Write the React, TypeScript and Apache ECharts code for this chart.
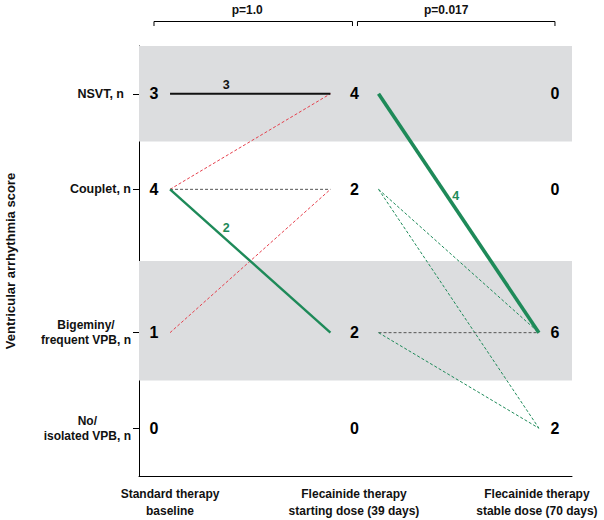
import { useEffect, useRef } from 'react';
import * as echarts from 'echarts';

// ---- data ----
const timepoints = [
  'Standard therapy\nbaseline',
  'Flecainide therapy\nstarting dose (39 days)',
  'Flecainide therapy\nstable dose (70 days)',
];
const levelNames = ['No/\nisolated VPB, n', 'Bigeminy/\nfrequent VPB, n', 'Couplet, n', 'NSVT, n'];
const levelScores = [0, 1, 2.5, 3.5];
const countsBaseline = [0, 1, 4, 3];
const countsStarting = [0, 2, 2, 4];
const countsStable = [2, 6, 0, 0];
// transitions between time points
const transPeriod = [0, 0, 0, 0, 0, 1, 1, 1, 1, 1];
const transFrom = [3, 2, 2, 2, 1, 3, 2, 2, 1, 1];
const transTo = [3, 3, 2, 1, 2, 1, 1, 0, 1, 0];
const transPatients = [3, 1, 1, 2, 1, 4, 1, 1, 1, 1];
const pValues = ['p=1.0', 'p=0.017'];
const bandRanges = [
  [3.0, 4.0],
  [0.5, 1.75],
];

// ---- styling ----
const FONT = 'Liberation Sans, Arial, Helvetica, sans-serif';
const RED = '#e5404d';
const GREEN = '#1e8a59';
const BLACK = '#111111';
const GREY_DASH = '#555555';
const BAND = '#dcdddf';
const segStart = [0.08, 1.12];
const segEnd = [0.88, 1.92];
const xLabelPos = [0.08, 0.9975, 1.91];
const labelFrac: Record<number, number> = { 0: 0.35, 3: 0.3, 5: 0.45 };
const labelOff: Record<number, number[]> = { 0: [0, -9], 3: [8, -4], 5: [5, -5] };

const allCounts = [countsBaseline, countsStarting, countsStable];

function buildOption() {
  const lineSeries: any[] = [];
  const lineLabels: any[] = [];
  transPeriod.forEach((p, i) => {
    const y0 = levelScores[transFrom[i]];
    const y1 = levelScores[transTo[i]];
    const n = transPatients[i];
    let color: string;
    if (transTo[i] > transFrom[i]) color = RED;
    else if (transTo[i] < transFrom[i]) color = GREEN;
    else color = n > 1 ? BLACK : GREY_DASH;
    const width = n >= 4 ? 3.6 : n >= 3 ? 2 : n >= 2 ? 2.4 : 1;
    const dashed = n === 1;
    lineSeries.push({
      type: 'line',
      silent: true,
      z: dashed ? 2 : 3,
      symbol: 'none',
      data: [
        [segStart[p], y0],
        [segEnd[p], y1],
      ],
      lineStyle: { color, width, type: dashed ? [3, 2] : 'solid' },
    });
    if (n > 1) {
      const f = labelFrac[i] ?? 0.4;
      const x = segStart[p] + (segEnd[p] - segStart[p]) * f;
      const y = y0 + (y1 - y0) * f;
      lineLabels.push({
        value: [x, y, n],
        label: { offset: labelOff[i] ?? [0, -8], color },
      });
    }
  });

  const countData: any[] = [];
  allCounts.forEach((arr, t) => {
    arr.forEach((c, li) => countData.push([t, levelScores[li], c]));
  });

  const labelBase = {
    show: true,
    position: 'inside',
    formatter: (p: any) => String(p.value[2]),
    fontFamily: FONT,
    fontWeight: 'bold',
    opacity: 1,
    textBorderWidth: 0,
  };

  return {
    animation: false,
    grid: {
      left: 139,
      right: 32,
      top: 46,
      bottom: 44,
      containLabel: false,
      outerBoundsMode: 'none',
    },
    xAxis: {
      type: 'value',
      min: -0.0748,
      max: 2.085,
      splitLine: { show: false },
      axisLine: { show: true, onZero: false, lineStyle: { color: '#000', width: 1 } },
      axisTick: { show: false },
      axisLabel: {
        customValues: xLabelPos,
        formatter: (v: number) => timepoints[Math.round(v)] ?? '',
        fontFamily: FONT,
        fontWeight: 'bold',
        fontSize: 12,
        lineHeight: 17,
        color: '#111',
        margin: 9,
        align: 'center',
      },
    },
    yAxis: {
      type: 'value',
      min: -0.5,
      max: 4.0,
      name: 'Ventricular arrhythmia score',
      nameLocation: 'middle',
      nameGap: 122,
      nameTextStyle: { fontFamily: FONT, fontWeight: 'bold', fontSize: 13, color: '#111' },
      splitLine: { show: false },
      axisLine: { show: true, onZero: false, lineStyle: { color: '#000', width: 1 } },
      axisTick: { show: true, customValues: levelScores, length: 6, lineStyle: { color: '#000' } },
      axisLabel: {
        customValues: levelScores,
        margin: 8,
        align: 'right',
        fontFamily: FONT,
        fontWeight: 'bold',
        fontSize: 12,
        color: '#111',
        formatter: (v: number) => {
          const idx = levelScores.indexOf(v);
          if (idx < 0) return '';
          const name = levelNames[idx];
          const parts = name.split('\n');
          if (parts.length > 1) return parts.map((s) => `{c|${s}}`).join('\n');
          return idx === 3 ? `{p|${name}}` : `{r|${name}}`;
        },
        rich: {
          c: { align: 'center', fontFamily: FONT, fontWeight: 'bold', fontSize: 12, lineHeight: 15, color: '#111' },
          r: { fontFamily: FONT, fontWeight: 'bold', fontSize: 12.5, color: '#111' },
          p: { fontFamily: FONT, fontWeight: 'bold', fontSize: 12.5, color: '#111', padding: [0, 7, 0, 0] },
        },
      },
    },
    series: [
      {
        type: 'scatter',
        silent: true,
        z: 1,
        symbol: 'circle',
        symbolSize: 0,
        itemStyle: { color: '#ffffff' },
        data: countData,
        label: { ...labelBase, fontSize: 16, color: '#000000' },
        markArea: {
          silent: true,
          itemStyle: { color: BAND },
          data: bandRanges.map((r) => [{ yAxis: r[0] }, { yAxis: r[1] }]),
        },
      },
      ...lineSeries,
      {
        type: 'scatter',
        silent: true,
        z: 4,
        symbol: 'circle',
        symbolSize: 0,
        itemStyle: { color: '#ffffff' },
        data: lineLabels,
        label: { ...labelBase, fontSize: 12.5 },
      },
    ],
  };
}

export default function App() {
  const ref = useRef<HTMLDivElement>(null);
  useEffect(() => {
    if (!ref.current) return;
    const chart = echarts.init(ref.current, undefined, { renderer: 'svg', width: 604, height: 520 });
    chart.setOption(buildOption() as any);
    const px = (t: number) => chart.convertToPixel({ xAxisIndex: 0 }, t) as number;
    const brackets = [
      [px(0), px(1) - 2],
      [px(1) + 3, px(2)],
    ];
    const textShift = [-6, -10];
    const graphic: any[] = [];
    brackets.forEach(([a, b], i) => {
      graphic.push({
        type: 'polyline',
        silent: true,
        shape: { points: [[a, 26], [a, 21.5], [b, 21.5], [b, 26]] },
        style: { stroke: '#000', lineWidth: 1, fill: null },
      });
      graphic.push({
        type: 'text',
        silent: true,
        x: (a + b) / 2 + textShift[i],
        y: 10,
        style: {
          text: pValues[i],
          fontFamily: FONT,
          fontWeight: 'bold',
          fontSize: 12,
          fill: '#111',
          align: 'center',
          verticalAlign: 'middle',
          textAlign: 'center',
          textVerticalAlign: 'middle',
        },
      });
    });
    chart.setOption({ graphic });
    return () => chart.dispose();
  }, []);
  return (
    <div
      ref={ref}
      style={{ position: 'fixed', left: 0, top: 0, width: 604, height: 520, background: '#fff' }}
    />
  );
}
